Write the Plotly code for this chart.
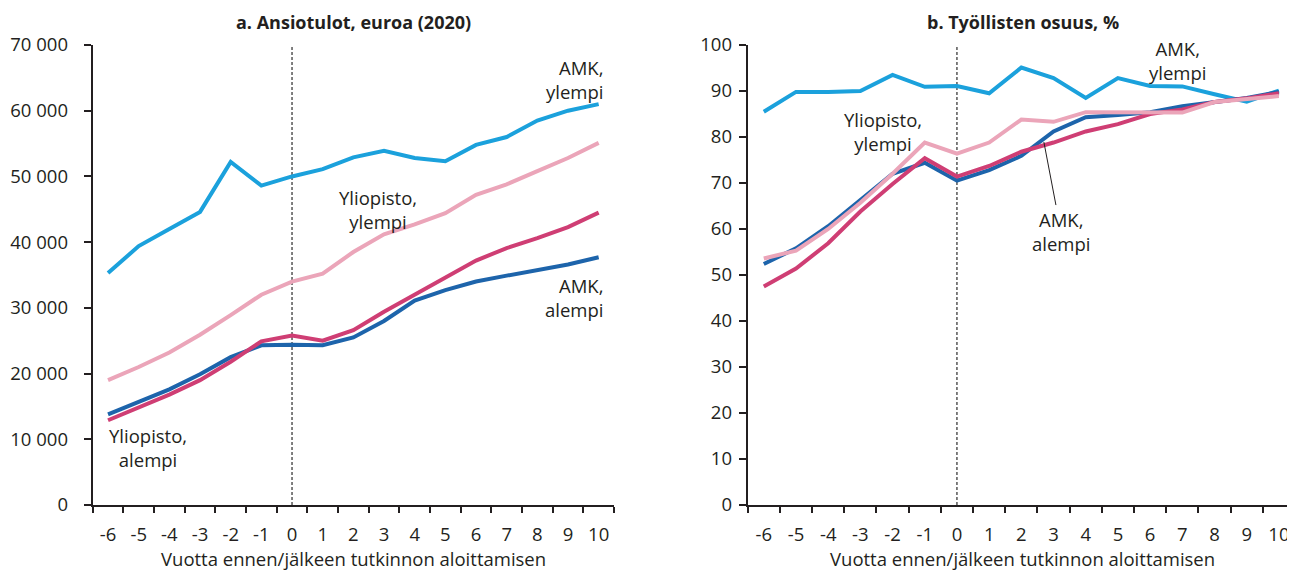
import plotly.graph_objects as go

years = ["-6", "-5", "-4", "-3", "-2", "-1", "0", "1", "2", "3", "4", "5", "6", "7", "8", "9", "10"]

# Panel a: Ansiotulot, euroa (2020)
inc_amk_ylempi = [35300, 39400, 42000, 44600, 52200, 48600, 50000, 51100, 52900, 53900, 52800, 52300, 54800, 56000, 58500, 60000, 61000]
inc_yo_ylempi = [19000, 21000, 23200, 25900, 28900, 32000, 34000, 35200, 38500, 41200, 42700, 44400, 47200, 48800, 50800, 52800, 55100]
inc_yo_alempi = [12900, 14800, 16800, 19000, 21800, 24900, 25800, 25000, 26600, 29400, 32000, 34500, 37200, 39100, 40600, 42300, 44500]
inc_amk_alempi = [13800, 15700, 17600, 19900, 22500, 24300, 24400, 24300, 25500, 28000, 31100, 32700, 34000, 34900, 35800, 36600, 37700]

# Panel b: Työllisten osuus, %
emp_amk_ylempi = [85.5, 89.8, 89.8, 90.0, 93.5, 90.9, 91.1, 89.5, 95.1, 92.8, 88.5, 92.8, 91.1, 91.0, 89.3, 87.7, 90.1]
emp_yo_ylempi = [53.6, 55.3, 60.0, 65.7, 72.0, 78.8, 76.4, 78.8, 83.8, 83.3, 85.4, 85.3, 85.4, 85.3, 87.6, 88.3, 88.9]
emp_yo_alempi = [47.5, 51.4, 56.9, 63.8, 69.8, 75.4, 71.4, 73.7, 76.8, 78.8, 81.2, 82.8, 85.0, 86.0, 87.6, 88.4, 89.5]
emp_amk_alempi = [52.4, 55.8, 60.6, 66.3, 72.0, 74.4, 70.5, 72.8, 75.9, 81.2, 84.3, 84.8, 85.4, 86.7, 87.7, 88.5, 89.8]

inc_ticks = [0, 10000, 20000, 30000, 40000, 50000, 60000, 70000]
inc_ticktext = ["0", "10 000", "20 000", "30 000", "40 000", "50 000", "60 000", "70 000"]
emp_ticks = [0, 10, 20, 30, 40, 50, 60, 70, 80, 90, 100]

C_AMK_Y = "#1BA1DC"
C_YO_Y = "#EBA5B9"
C_YO_A = "#CF3E74"
C_AMK_A = "#1D64AB"
TXT = "#231F20"
FONT = "Open Sans"
FS = 18.5

fig = go.Figure()

def add(xa, ya, ys, color, name):
    fig.add_trace(go.Scatter(x=years, y=ys, mode="lines", name=name,
                             line=dict(color=color, width=4),
                             xaxis=xa, yaxis=ya, showlegend=False))

add("x", "y", inc_amk_ylempi, C_AMK_Y, "AMK, ylempi")
add("x", "y", inc_amk_alempi, C_AMK_A, "AMK, alempi")
add("x", "y", inc_yo_alempi, C_YO_A, "Yliopisto, alempi")
add("x", "y", inc_yo_ylempi, C_YO_Y, "Yliopisto, ylempi")

add("x2", "y2", emp_amk_ylempi, C_AMK_Y, "AMK, ylempi")
add("x2", "y2", emp_amk_alempi, C_AMK_A, "AMK, alempi")
add("x2", "y2", emp_yo_alempi, C_YO_A, "Yliopisto, alempi")
add("x2", "y2", emp_yo_ylempi, C_YO_Y, "Yliopisto, ylempi")

# page body has an 8px margin: the figure starts at (8, 8)
OFF = 8
W, H = 1295 - OFF, 574 - OFF
dom1 = [(92.7 - OFF) / W, (614 - OFF) / W]
dom2 = [(747.7 - OFF) / W, 1.0]
c1 = (dom1[0] + dom1[1]) / 2
c2 = ((747.7 - OFF) / W + (1298 - OFF) / W) / 2

xcommon = dict(type="category", tickson="boundaries", ticks="outside", ticklen=6,
               tickwidth=1.5, tickcolor=TXT, showline=True, linecolor=TXT, linewidth=2,
               showgrid=False, zeroline=False, tickfont=dict(size=FS, color=TXT, family=FONT),
               range=[-0.5, 16.5], fixedrange=True)
ycommon = dict(ticks="outside", ticklen=7, tickwidth=1.5, tickcolor=TXT, showline=True,
               linecolor=TXT, linewidth=2, showgrid=False, zeroline=False,
               tickfont=dict(size=FS, color=TXT, family=FONT))

fig.update_layout(
    width=W, height=H,
    margin=dict(l=0, r=0, t=45 - OFF, b=69),
    paper_bgcolor="white", plot_bgcolor="white",
    font=dict(family=FONT, color=TXT, size=FS),
    xaxis=dict(domain=dom1, anchor="y", ticklabelstandoff=12, **xcommon),
    yaxis=dict(anchor="x", range=[0, 70000], tickvals=inc_ticks, ticktext=inc_ticktext,
               ticklabelstandoff=12, **ycommon),
    xaxis2=dict(domain=dom2, anchor="y2", ticklabelstandoff=12, **xcommon),
    yaxis2=dict(anchor="x2", range=[0, 100], tickvals=emp_ticks,
                ticklabelstandoff=3, **ycommon),
)

# dashed vertical line at year 0
for xr, yr in (("x", "y"), ("x2", "y2")):
    fig.add_shape(type="line", xref=xr, yref=f"{yr} domain", x0=6, x1=6, y0=0, y1=1,
                  line=dict(color="#000000", width=1, dash="3px,2px"), layer="below")

# panel titles
tfont = dict(size=18, family=FONT, color=TXT)
fig.add_annotation(text="<b>a. Ansiotulot, euroa (2020)</b>", xref="paper", yref="paper",
                   x=c1, y=1 + 23 / 460, showarrow=False,
                   font=tfont, xanchor="center", yanchor="middle")
fig.add_annotation(text="<b>b. Työllisten osuus, %</b>", xref="paper", yref="paper",
                   x=c2, y=1 + 23 / 460, showarrow=False,
                   font=tfont, xanchor="center", yanchor="middle")

# x-axis titles
for xc in (c1, c2):
    fig.add_annotation(text="Vuotta ennen/jälkeen tutkinnon aloittamisen", xref="paper", yref="paper",
                       x=xc, y=-53 / 460, showarrow=False, xanchor="center", yanchor="middle",
                       font=dict(size=FS, family=FONT, color=TXT))

lab = dict(showarrow=False, font=dict(size=FS, family=FONT, color=TXT))

# panel a labels
fig.add_annotation(text="AMK,<br>ylempi", xref="x", yref="y", x=16.2, y=64800,
                   xanchor="right", yanchor="middle", align="right", **lab)
fig.add_annotation(text="Yliopisto,<br>ylempi", xref="x", yref="y", x=8.8, y=44900,
                   xanchor="center", yanchor="middle", align="center", **lab)
fig.add_annotation(text="AMK,<br>alempi", xref="x", yref="y", x=16.2, y=31600,
                   xanchor="right", yanchor="middle", align="right", **lab)
fig.add_annotation(text="Yliopisto,<br>alempi", xref="x", yref="y", x=1.3, y=8700,
                   xanchor="center", yanchor="middle", align="center", **lab)

# panel b labels
fig.add_annotation(text="AMK,<br>ylempi", xref="x2", yref="y2", x=12.85, y=96.7,
                   xanchor="center", yanchor="middle", align="center", **lab)
fig.add_annotation(text="Yliopisto,<br>ylempi", xref="x2", yref="y2", x=3.7, y=81.1,
                   xanchor="center", yanchor="middle", align="center", **lab)
fig.add_annotation(text="AMK,<br>alempi", xref="x2", yref="y2", x=8.7, y=78.9,
                   ax=17, ay=89, axref="pixel", ayref="pixel",
                   showarrow=True, arrowhead=0, arrowwidth=1, arrowcolor=TXT,
                   align="center", font=dict(size=FS, family=FONT, color=TXT))

fig.write_html("out.html")
